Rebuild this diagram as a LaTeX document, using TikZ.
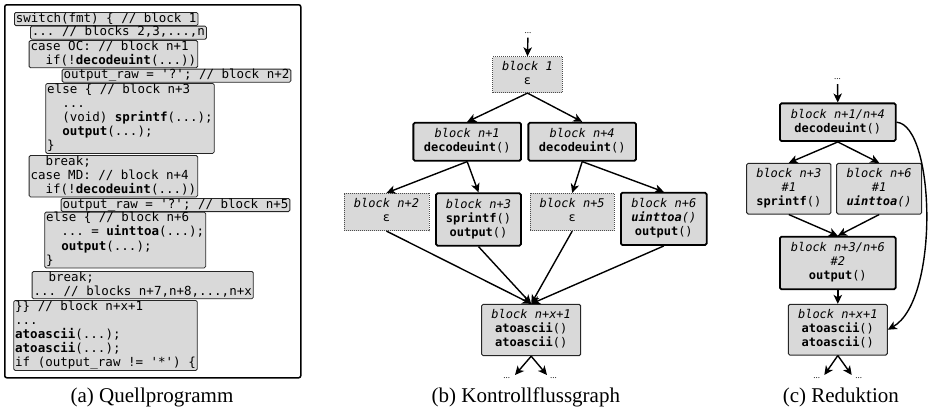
\documentclass[tikz,border=0pt]{standalone}
\usepackage{fontspec}
\setmainfont{Liberation Serif}
\setmonofont{DejaVu Sans Mono}
\usetikzlibrary{arrows.meta}
\definecolor{boxgray}{RGB}{217,217,217}
\newcommand\Ls{\vrule width0pt height9.6pt depth3.6pt\relax}
\newcommand\Ms{\vrule width0pt height9.4pt depth3.6pt\relax}
\newcommand\Ind{\hphantom{xx}}
\begin{document}
\begin{tikzpicture}[x=1pt,y=-1pt,
  code/.style={draw=black!85, fill=boxgray, rounded corners=1.5pt, line width=0.8pt,
    anchor=north west, inner xsep=1.5pt, inner ysep=0pt, align=left,
    font=\fontsize{12.5}{14.2}\selectfont\ttfamily},
  blk/.style={fill=boxgray, rounded corners=1.5pt, align=center, inner sep=1pt,
    font=\fontsize{12}{14}\selectfont\ttfamily},
  thickblk/.style={blk, draw=black, line width=1.8pt},
  normblk/.style={blk, draw=black!85, line width=1pt},
  dotblk/.style={blk, draw=black!70, line width=0.8pt, dash pattern=on 1pt off 1pt, rounded corners=0pt},
  arr/.style={-{Stealth[length=9pt,width=8.5pt,inset=2.5pt]}, line width=1.4pt},
  dots/.style={font=\fontsize{9}{9}\selectfont, inner sep=0pt},
  capt/.style={anchor=base, font=\fontsize{21}{24}\selectfont, inner sep=0pt}]
\useasboundingbox (0,0) rectangle (929,416);

% ---------- (a) source listing ----------
\node[draw=black, line width=1.5pt, rounded corners=2pt, anchor=north west,
  minimum width=296pt, minimum height=373pt, inner sep=0pt] (frame) at (4,4) {};
\node[code] (c1) at (14,12) {\Ls switch(fmt) \{ // block 1};
\node[code] (c2) at (30,25.7) {\Ls ... // blocks 2,3,...,n};
\node[code] (c3) at (28.7,40) {\Ls case OC: // block n+1\\\Ls\Ind if(!\textbf{decodeuint}(...))};
\node[code] (c4) at (61.7,68.7) {\Ls output\_raw = '?'; // block n+2};
\node[code] (c5) at (45.3,83) {\Ls else \{ // block n+3\\\Ls\Ind ...\\\Ls\Ind (void) \textbf{sprintf}(...);\\\Ls\Ind\textbf{output}(...);\\\Ls\}};
\node[code] (c6) at (28.7,155) {\Ls\Ind break;\\\Ls case MD: // block n+4\\\Ls\Ind if(!\textbf{decodeuint}(...))};
\node[code] (c7) at (60.7,198) {\Ls output\_raw = '?'; // block n+5};
\node[code] (c8) at (44.3,211.7) {\Ls else \{ // block n+6\\\Ls\Ind ... = \textbf{uinttoa}(...);\\\Ls\Ind\textbf{output}(...);\\\Ls\}};
\node[code] (c9) at (31.7,271) {\Ls\Ind break;\\\Ls ... // blocks n+7,n+8,...,n+x};
\node[code] (c10) at (13.3,300) {\Ls\}\} // block n+x+1\\\Ls ...\\\Ls\textbf{atoascii}(...);\\\Ls\textbf{atoascii}(...);\\\Ls if (output\_raw != '*') \{};
\node[capt] (capa) at (152,402) {(a) Quellprogramm};

% ---------- (b) control flow graph ----------
\node[dots] (bdt) at (528,33) {...};
\node[dotblk, minimum width=69.6pt, minimum height=36pt] (b1) at (527.5,74.7) {\Ms\textit{block 1}\\\Ms ε};
\node[thickblk, minimum width=107.7pt, minimum height=38pt] (n1) at (467.2,141.7) {\Ms\textit{block n+1}\\\Ms\textbf{decodeuint}()};
\node[thickblk, minimum width=107.7pt, minimum height=38pt] (n4) at (582.2,141.7) {\Ms\textit{block n+4}\\\Ms\textbf{decodeuint}()};
\node[dotblk, minimum width=85pt, minimum height=37.4pt] (n2) at (386.5,212) {\Ms\textit{block n+2}\\\Ms ε};
\node[thickblk, minimum width=85pt, minimum height=52.4pt] (n3) at (478.5,219.5) {\Ms\textit{block n+3}\\\Ms\textbf{sprintf}()\\\Ms\textbf{output}()};
\node[dotblk, minimum width=84.3pt, minimum height=37.4pt] (n5) at (572.2,212) {\Ms\textit{block n+5}\\\Ms ε};
\node[thickblk, minimum width=85.7pt, minimum height=52.3pt] (n6) at (663.8,218.9) {\Ms\textit{block n+6}\\\Ms\textbf{\textit{uinttoa}}\textit{()}\\\Ms\textbf{output}()};
\node[normblk, minimum width=99pt, minimum height=51.4pt] (nx) at (531.2,330) {\Ms\textit{block n+x+1}\\\Ms\textbf{atoascii}()\\\Ms\textbf{atoascii}()};
\coordinate (nxa) at (515,375);
\coordinate (nxb) at (547,375);
\node[dots] (nxda) at (506.7,378) {...};
\node[dots] (nxdb) at (553.5,378) {...};

\draw[arr, shorten <=4pt] (bdt) -- (b1.north);
\draw[arr] (b1.south) -- (n1.north);
\draw[arr] (b1.south) -- (n4.north);
\draw[arr] (n1.south) -- (n2.north);
\draw[arr] (n1.south) -- (n3.north);
\draw[arr] (n4.south) -- (n5.north);
\draw[arr] (n4.south) -- (n6.north);
\draw[arr] (n2.south) -- (nx.north);
\draw[arr] (n3.south) -- (nx.north);
\draw[arr] (n5.south) -- (nx.north);
\draw[arr] (n6.south) -- (nx.north);
\draw[arr] (nx.south) -- (nxa);
\draw[arr] (nx.south) -- (nxb);
\node[capt] (capb) at (525.8,402) {(b) Kontrollflussgraph};

% ---------- (c) reduction ----------
\node[dots] (rdt) at (837.5,79.3) {...};
\node[thickblk, minimum width=115.7pt, minimum height=37.7pt] (r1) at (837.8,122.2) {\Ms\textit{block n+1/n+4}\\\Ms\textbf{decodeuint}()};
\node[normblk, minimum width=84.3pt, minimum height=50.7pt] (r3) at (788.8,188.7) {\Ms\textit{block n+3}\\\Ms\textit{\#1}\\\Ms\textbf{sprintf}()};
\node[normblk, minimum width=85pt, minimum height=50.7pt] (r6) at (879.2,188.7) {\Ms\textit{block n+6}\\\Ms\textit{\#1}\\\Ms\textbf{\textit{uinttoa}}\textit{()}};
\node[thickblk, minimum width=115.7pt, minimum height=52.6pt] (r36) at (837.8,263) {\Ms\textit{block n+3/n+6}\\\Ms\textit{\#2}\\\Ms\textbf{output}()};
\node[normblk, minimum width=99pt, minimum height=50.7pt] (rx) at (837.8,329.7) {\Ms\textit{block n+x+1}\\\Ms\textbf{atoascii}()\\\Ms\textbf{atoascii}()};
\coordinate (rxa) at (824.3,375);
\coordinate (rxb) at (851.7,375);
\node[dots] (rxda) at (816.7,377.7) {...};
\node[dots] (rxdb) at (858.8,377.7) {...};

\draw[arr, shorten <=4pt] (rdt) -- (r1.north);
\draw[arr] (r1.south) -- (r3.north);
\draw[arr] (r1.south) -- (r6.north);
\draw[arr] (r3.south) -- (r36.north);
\draw[arr] (r6.south) -- (r36.north);
\draw[arr] (r36.south) -- (rx.north);
\draw[arr] (rx.south) -- (rxa);
\draw[arr] (rx.south) -- (rxb);
\draw[arr] (r1.east) .. controls (935,125) and (940,300) .. (rx.east);
\node[capt] (capc) at (840.8,402) {(c) Reduktion};
\end{tikzpicture}
\end{document}
